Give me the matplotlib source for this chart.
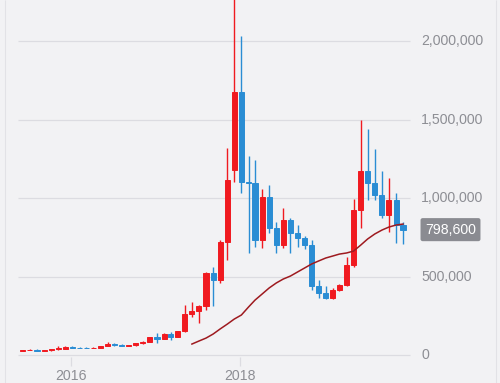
import matplotlib
matplotlib.use("Agg")
import matplotlib.pyplot as plt
import matplotlib.dates as mdates
import pandas as pd

# monthly candles, JPY
months = pd.date_range("2015-06-01", "2019-12-01", freq="MS")
opens = [28000, 32000, 35000, 28000, 29000, 38000, 40000,
         50000, 48000, 46000, 45000, 48000, 58000, 70000, 66000, 58000, 62000, 75000, 84000,
         112000, 104000, 135000, 118000, 150000, 262000, 280000, 312000, 520000, 478000, 720000, 1180000,
         1675000, 1105000, 1095000, 733000, 1006000, 808000, 700000, 860000, 777000, 745000, 700000, 440000,
         395000, 363000, 414000, 446000, 573000, 923000, 1170000, 1095000, 1020000, 892000, 987000, 828000]
highs = [33000, 40000, 37000, 30000, 40000, 60000, 57000,
         55000, 51000, 49000, 50000, 60000, 85000, 75000, 68000, 64000, 78000, 88000, 115000,
         138000, 140000, 148000, 155000, 320000, 335000, 320000, 530000, 560000, 730000, 1320000, 2330000,
         2030000, 1270000, 1240000, 1060000, 1080000, 847000, 936000, 870000, 830000, 755000, 733000, 478000,
         440000, 430000, 450000, 624000, 994000, 1500000, 1440000, 1310000, 1170000, 1130000, 1030000, 847000]
lows = [27000, 31000, 24000, 26000, 28000, 35000, 38000,
        42000, 42000, 43000, 44000, 47000, 56000, 60000, 55000, 56000, 60000, 72000, 82000,
        78000, 100000, 98000, 112000, 146000, 245000, 205000, 290000, 310000, 460000, 605000, 1100000,
        1030000, 650000, 690000, 680000, 777000, 650000, 680000, 650000, 690000, 675000, 414000, 363000,
        360000, 360000, 405000, 440000, 560000, 808000, 987000, 987000, 873000, 783000, 713000, 707000]
closes = [32000, 35000, 28000, 29000, 38000, 46000, 50000,
          48000, 46000, 45000, 48000, 58000, 70000, 66000, 58000, 62000, 75000, 84000, 112000,
          104000, 135000, 118000, 150000, 262000, 280000, 312000, 520000, 478000, 720000, 1115000, 1675000,
          1100000, 1095000, 733000, 1006000, 808000, 700000, 860000, 777000, 745000, 700000, 440000, 395000,
          363000, 414000, 446000, 573000, 923000, 1170000, 1095000, 1020000, 892000, 987000, 828000, 798600]

# moving average line (Jun 2017 .. Dec 2019)
ma_months = pd.date_range("2017-06-01", "2019-12-01", freq="MS")
ma_vals = [70000, 89000, 108000, 134000, 166000, 197000, 229000,
           255000, 306000, 350000, 389000, 427000, 459000, 484000, 503000, 529000, 554000, 580000, 599000,
           618000, 631000, 643000, 650000, 662000, 700000, 739000, 771000, 796000, 815000, 828000, 834000]

y_ticks = [0, 500000, 1000000, 1500000, 2000000]
x_ticks = ["2016-01-01", "2018-01-01"]
last_price = 798600

RED, BLUE, MA_RED = "#f01a20", "#2a8dd4", "#9e1a1f"
BG, GRID, TXT = "#f2f2f4", "#dcdce1", "#8d8e94"

plt.rcParams["font.family"] = ["Liberation Sans", "DejaVu Sans"]

fig = plt.figure(figsize=(5, 3.83), dpi=100, facecolor=BG)
ax = fig.add_axes([0, 0, 1, 1])
ax.set_facecolor(BG)

# pixel -> data mapping of the original layout
t0 = mdates.date2num(pd.Timestamp("2016-01-01"))
dpp = 731 / 169.0              # days per pixel
def xpix(px):
    return t0 + (px - 71) * dpp

ax.set_xlim(xpix(0), xpix(500))
ax.set_ylim(-178000, 2261000)

for v in y_ticks:
    ax.hlines(v, xpix(18), xpix(410), color=GRID, lw=0.9, zorder=1)
    ax.text(xpix(421), v, f"{v:,}", color=TXT, fontsize=10.2, va="center", ha="left")

for d, lab in zip(x_ticks, ["2016", "2018"]):
    xd = mdates.date2num(pd.Timestamp(d))
    ax.vlines(xd, -15000, -70000, color=GRID, lw=0.9)
    ax.text(xd, -135000, lab, color=TXT, fontsize=10.2, ha="center", va="center")

# border lines
ax.vlines([xpix(5), xpix(496)], -178000, 2261000, color="#e2e2e6", lw=0.8)

xs = mdates.date2num(months) + 6
for x, o, h, l, c in zip(xs, opens, highs, lows, closes):
    col = RED if c >= o else BLUE
    ax.vlines(x, l, h, color=col, lw=1.0, zorder=2)
    ax.bar(x, abs(c - o), bottom=min(o, c), width=22, color=col, edgecolor=col, lw=0.7, zorder=3)

ax.plot(mdates.date2num(ma_months) + 6, ma_vals, color=MA_RED, lw=1.1, zorder=4)

ax.text(xpix(450.5), last_price, f"{last_price:,}", color="white", fontsize=10.2,
        ha="center", va="center", zorder=5,
        bbox=dict(boxstyle="round,pad=0.32,rounding_size=0.15", fc="#8a8b91", ec="none"))

ax.axis("off")
fig.savefig("out.png", dpi=100, facecolor=BG)
